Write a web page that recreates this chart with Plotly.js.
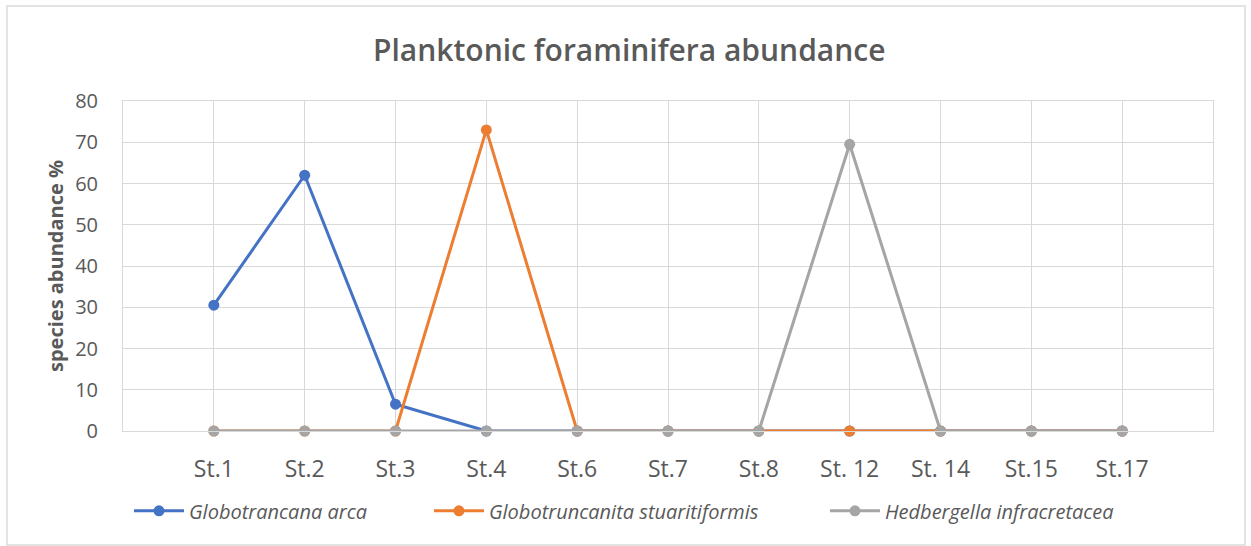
<!DOCTYPE html>
<html>
<head>
<meta charset="utf-8">
<script src="https://cdn.plot.ly/plotly-3.0.1.min.js"></script>
<style>
  html, body { margin: 0; padding: 0; background: #ffffff; }
  #wrap { position: relative; width: 1251px; height: 546px; overflow: hidden; }
  #chart { position: absolute; left: 0; top: 0; width: 1251px; height: 546px; }
  #frame { position: absolute; left: 6px; top: 5px; width: 1236px; height: 537px;
           border: 2px solid #e3e3e3; pointer-events: none; }
</style>
</head>
<body>
<div id="wrap">
  <div id="chart"></div>
  <div id="frame"></div>
</div>
<script>
// Sampling stations along the x axis
const stations = ["St.1", "St.2", "St.3", "St.4", "St.6", "St.7", "St.8", "St. 12", "St. 14", "St.15", "St.17"];

// Relative abundance (%) of each species per station
const globotrancanaArca = [30.5, 62, 6.5, 0, 0, 0, 0, 0, 0, 0, 0];
const globotruncanitaStuaritiformis = [0, 0, 0, 73, 0, 0, 0, 0, 0, 0, 0];
const hedbergellaInfracretacea = [0, 0, 0, 0, 0, 0, 0, 69.5, 0, 0, 0];

const yTicks = [0, 10, 20, 30, 40, 50, 60, 70, 80];

const FONT = "'Open Sans', 'Noto Sans', sans-serif";
const TEXT = "#595959";
const GRID = "#d9d9d9";

function series(name, values, color, legendId) {
  return {
    type: "scatter",
    mode: "lines+markers",
    name: name,
    x: stations,
    y: values,
    line: { color: color, width: 3 },
    marker: { color: color, size: 11 },
    cliponaxis: false,
    legend: legendId
  };
}

const traces = [
  series("Globotrancana arca", globotrancanaArca, "#4472C4", "legend"),
  series("Globotruncanita stuaritiformis", globotruncanitaStuaritiformis, "#ED7D31", "legend2"),
  series("Hedbergella infracretacea", hedbergellaInfracretacea, "#A5A5A5", "legend3")
];

// One single-entry legend per series so each entry sits at its own position
function legendAt(x) {
  return {
    orientation: "h",
    x: x,
    xanchor: "left",
    y: -0.242,
    yanchor: "middle",
    itemwidth: 50,
    font: { family: FONT, size: 20, color: TEXT, style: "italic" },
    bgcolor: "rgba(0,0,0,0)"
  };
}

const layout = {
  width: 1251,
  height: 546,
  margin: { l: 123, r: 38, t: 101, b: 115 },
  paper_bgcolor: "#ffffff",
  plot_bgcolor: "#ffffff",
  font: { family: FONT, color: TEXT },
  showlegend: true,
  title: {
    text: "Planktonic foraminifera abundance",
    font: { family: FONT, size: 30, color: TEXT, weight: 600 },
    x: 0.503,
    xanchor: "center",
    y: 0.907,
    yanchor: "middle"
  },
  xaxis: {
    type: "category",
    range: [-1, 11],
    showgrid: true,
    gridcolor: GRID,
    gridwidth: 1,
    showline: true,
    linecolor: GRID,
    linewidth: 1,
    mirror: true,
    zeroline: false,
    ticks: "outside",
    ticklen: 17,
    tickcolor: "rgba(0,0,0,0)",
    tickfont: { family: FONT, size: 23, color: TEXT },
    fixedrange: true
  },
  yaxis: {
    range: [0, 80],
    tickvals: yTicks,
    ticktext: yTicks.map(String),
    showgrid: true,
    gridcolor: GRID,
    gridwidth: 1,
    showline: true,
    linecolor: GRID,
    linewidth: 1,
    mirror: true,
    zeroline: false,
    ticks: "outside",
    ticklen: 20,
    tickcolor: "rgba(0,0,0,0)",
    tickfont: { family: FONT, size: 20, color: TEXT },
    title: {
      text: "species abundance %",
      font: { family: FONT, size: 20, color: TEXT, weight: 700 },
      standoff: 6
    },
    fixedrange: true
  },
  legend: legendAt(0.0055),
  legend2: legendAt(0.2807),
  legend3: legendAt(0.644)
};

Plotly.newPlot("chart", traces, layout, { displayModeBar: false, staticPlot: true });
</script>
</body>
</html>
